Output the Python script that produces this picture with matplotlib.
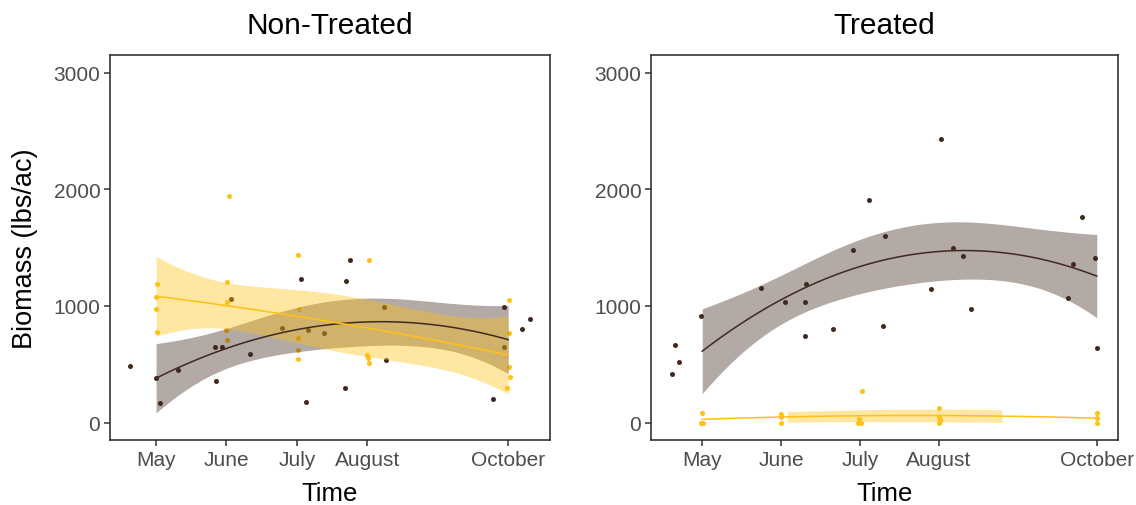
import numpy as np
import matplotlib
matplotlib.use("Agg")
import matplotlib.pyplot as plt

plt.rcParams['font.family'] = ['Liberation Sans', 'DejaVu Sans']

# Sampling-month tick positions and labels
month_ticks = [5, 6, 7, 8, 10]
month_labels = ['May', 'June', 'July', 'August', 'October']
panel_titles = ['Non-Treated', 'Treated']

# Non-treated plots: jittered sampling time (month number) and biomass (lbs/ac)
nt_brown_x = [4.63, 5.00, 5.06, 5.31, 5.83, 5.85, 5.93, 6.07, 6.33, 6.79, 7.06, 7.13,
              7.16, 7.39, 7.68, 7.70, 7.75, 8.23, 8.26, 9.79, 9.94, 9.94, 10.20, 10.31]
nt_brown_y = [486, 384, 167, 452, 650, 358, 650, 1057, 588, 812, 1230, 176,
              795, 770, 295, 1210, 1392, 989, 537, 201, 994, 648, 804, 889]
nt_gold_x = [5.01, 5.00, 5.00, 5.01, 6.03, 6.01, 6.01, 6.00, 6.01, 7.02, 7.03, 7.02,
             7.02, 7.02, 8.02, 8.00, 8.01, 8.02, 10.01, 10.01, 10.01, 10.02, 9.99]
nt_gold_y = [1185, 1079, 977, 778, 1944, 1202, 1037, 795, 707, 1432, 977, 727,
             622, 546, 1392, 582, 554, 511, 1049, 770, 477, 389, 295]

# Treated plots
t_brown_x = [4.62, 4.66, 4.71, 4.99, 5.75, 6.05, 6.30, 6.30, 6.31, 6.66, 6.91, 7.11,
             7.29, 7.31, 7.90, 8.03, 8.18, 8.31, 8.40, 9.64, 9.70, 9.81, 9.98, 10.00]
t_brown_y = [418, 668, 520, 909, 1151, 1037, 744, 1037, 1185, 804, 1477, 1910,
             830, 1597, 1147, 2426, 1492, 1426, 977, 1071, 1355, 1761, 1409, 642]
t_gold_x = [5.00, 4.99, 5.01, 6.00, 6.00, 6.00, 7.02, 6.99, 7.01, 6.98, 8.00, 8.00,
            8.01, 8.00, 10.00, 10.00, 10.00]
t_gold_y = [82, 0, 0, 71, 43, 0, 269, 30, 0, 0, 125, 43, 20, 0, 82, 36, 0]

BROWN = '#42291F'
GOLD = '#FFC114'
Y_LIMITS = (0, 3000)


def t_quantile(df, z=1.959964):
    """Cornish-Fisher approximation of the 97.5% Student-t quantile."""
    return (z + (z**3 + z) / (4 * df)
            + (5 * z**5 + 16 * z**3 + 3 * z) / (96 * df**2)
            + (3 * z**7 + 19 * z**5 + 17 * z**3 - 15 * z) / (384 * df**3))


def quad_band(x, y, n_eval=80):
    """Quadratic least-squares fit with a 95% confidence band."""
    x = np.asarray(x, float)
    y = np.asarray(y, float)
    X = np.column_stack([np.ones_like(x), x, x**2])
    XtX_inv = np.linalg.inv(X.T @ X)
    beta = XtX_inv @ X.T @ y
    resid = y - X @ beta
    df = len(x) - 3
    sigma = np.sqrt(np.sum(resid**2) / df)
    xs = np.linspace(x.min(), x.max(), n_eval)
    Xs = np.column_stack([np.ones_like(xs), xs, xs**2])
    fit = Xs @ beta
    se = sigma * np.sqrt(np.einsum('ij,jk,ik->i', Xs, XtX_inv, Xs))
    tq = t_quantile(df)
    return xs, fit, fit - tq * se, fit + tq * se


def draw_panel(ax, series, title, show_ylabel):
    all_x = np.concatenate([np.asarray(s[0], float) for s in series])
    lo_x, hi_x = all_x.min(), all_x.max()
    pad = 0.05 * (hi_x - lo_x)
    for xj, yv, col in series:
        ax.scatter(xj, yv, s=13, color=col, linewidths=0, zorder=2)
    for xj, yv, col in series:
        month = np.rint(np.asarray(xj, float))
        xs, fit, lo, hi = quad_band(month, yv)
        inside = (lo >= Y_LIMITS[0]) & (hi <= Y_LIMITS[1])
        ax.fill_between(xs, lo, hi, where=inside, color=col, alpha=0.4,
                        linewidth=0, zorder=3)
        ax.plot(xs, fit, color=col, linewidth=1.1, zorder=4)
    ax.set_xlim(lo_x - pad, hi_x + pad)
    pad_y = 0.05 * (Y_LIMITS[1] - Y_LIMITS[0])
    ax.set_ylim(Y_LIMITS[0] - pad_y, Y_LIMITS[1] + pad_y)
    ax.set_xticks(month_ticks)
    ax.set_xticklabels(month_labels)
    ax.set_yticks([0, 1000, 2000, 3000])
    ax.tick_params(axis='both', direction='out', length=4, width=1.1,
                   color='#333333', labelcolor='#4D4D4D', labelsize=15, pad=3)
    for sp in ax.spines.values():
        sp.set_color('#333333')
        sp.set_linewidth(1.2)
    ax.set_title(title, fontsize=21.5, color='black', pad=16)
    ax.set_xlabel('Time', fontsize=18.5, color='black', labelpad=9)
    if show_ylabel:
        ax.set_ylabel('Biomass (lbs/ac)', fontsize=19.5, color='black', labelpad=11)


fig = plt.figure(figsize=(11.36, 5.06), dpi=100)
W, H = 1136, 506
ax1 = fig.add_axes([110 / W, (H - 441) / H, 440 / W, 385 / H])
ax2 = fig.add_axes([651 / W, (H - 441) / H, 467 / W, 385 / H])

draw_panel(ax1, [(nt_brown_x, nt_brown_y, BROWN), (nt_gold_x, nt_gold_y, GOLD)],
           panel_titles[0], True)
draw_panel(ax2, [(t_brown_x, t_brown_y, BROWN), (t_gold_x, t_gold_y, GOLD)],
           panel_titles[1], False)

fig.savefig('out.png', dpi=100, facecolor='white')
